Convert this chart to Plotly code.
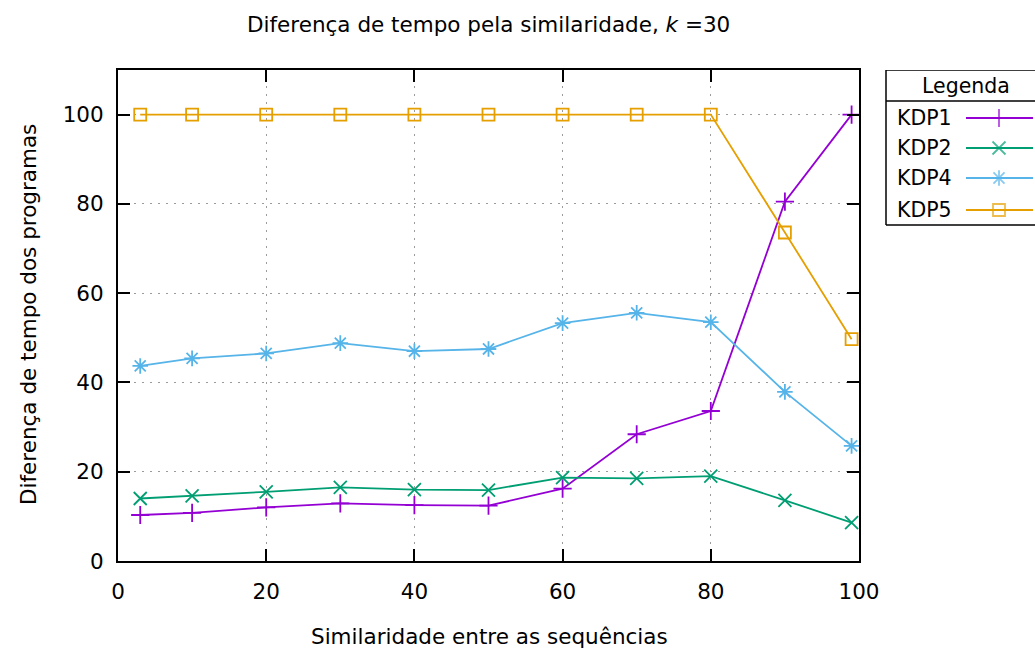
import plotly.graph_objects as go

# ---- data ----
similaridade = [3, 10, 20, 30, 40, 50, 60, 70, 80, 90, 99]
kdp1 = [10.3, 10.8, 12.0, 12.9, 12.5, 12.4, 16.2, 28.4, 33.6, 80.5, 100]
kdp2 = [14.0, 14.6, 15.5, 16.5, 16.0, 15.9, 18.7, 18.5, 19.0, 13.6, 8.6]
kdp4 = [43.7, 45.4, 46.5, 48.8, 47.0, 47.5, 53.3, 55.6, 53.5, 37.9, 25.8]
kdp5 = [100, 100, 100, 100, 100, 100, 100, 100, 100, 73.6, 49.7]
series_names = ["KDP1", "KDP2", "KDP4", "KDP5"]
x_ticks = [0, 20, 40, 60, 80, 100]
y_ticks = [0, 20, 40, 60, 80, 100]

colors = ["#9400D3", "#009E73", "#56B4E9", "#E69F00"]
symbols = ["cross-thin-open", "x-thin-open", "asterisk-open", "square-open"]
sizes = [13, 13, 13, 12]

FONT = "DejaVu Sans"
FS = 21.5
W, H = 1035, 650
L, R, T, B = 118, 0, 70, 89
plot_w_px = 741
pw = W - L - R
ph = H - T - B

fig = go.Figure()
for name, ys, c, s, sz in zip(series_names, [kdp1, kdp2, kdp4, kdp5], colors, symbols, sizes):
    fig.add_trace(go.Scatter(
        x=similaridade, y=ys, name=name, mode="lines+markers",
        line=dict(color=c, width=1.8),
        marker=dict(symbol=s, size=sz, color=c, line=dict(color=c, width=1.8)),
        showlegend=False, xaxis="x", yaxis="y",
    ))

# ---- custom gnuplot-style legend (drawn on an overlay pixel axis) ----
leg_left, leg_right = 886, 1035
leg_top, leg_sep, leg_bottom = 70, 101, 225
row_y = [118, 148, 178, 210]
for name, c, s, sz, yy in zip(series_names, colors, symbols, sizes, row_y):
    fig.add_trace(go.Scatter(
        x=[966, 999, 1033], y=[yy, yy, yy], mode="lines+markers",
        line=dict(color=c, width=1.8),
        marker=dict(symbol=s, size=[0, sz, 0], color=c, line=dict(color=c, width=1.8)),
        showlegend=False, xaxis="x2", yaxis="y2", hoverinfo="skip",
    ))

annotations = []
for name, yy in zip(series_names, row_y):
    annotations.append(dict(x=895, y=yy, xref="x2", yref="y2", text=name, showarrow=False,
                            xanchor="left", yanchor="middle", font=dict(family=FONT, size=FS - 1, color="#000")))
annotations.append(dict(x=966, y=86, xref="x2", yref="y2", text="Legenda", showarrow=False,
                        xanchor="center", yanchor="middle", font=dict(family=FONT, size=FS - 1, color="#000")))

shapes = []
for (x0, y0, x1, y1) in [(leg_left, leg_top, leg_right + 5, leg_top),
                         (leg_left, leg_sep, leg_right + 5, leg_sep),
                         (leg_left, leg_bottom, leg_right + 5, leg_bottom),
                         (leg_left, leg_top, leg_left, leg_bottom)]:
    shapes.append(dict(type="line", xref="x2", yref="y2", x0=x0, y0=y0, x1=x1, y1=y1,
                       line=dict(color="#000", width=1.5)))

# titles
annotations.append(dict(x=(488 - L) / pw, y=(H - B - 25) / ph, xref="paper", yref="paper",
                        text="Diferença de tempo pela similaridade, <i>k</i> =30", showarrow=False,
                        xanchor="center", yanchor="middle", font=dict(family=FONT, size=FS, color="#000")))
annotations.append(dict(x=(489 - L) / pw, y=(H - B - 636) / ph, xref="paper", yref="paper",
                        text="Similaridade entre as sequências", showarrow=False,
                        xanchor="center", yanchor="middle", font=dict(family=FONT, size=FS, color="#000")))
annotations.append(dict(x=(28 - L) / pw, y=(H - B - 315) / ph, xref="paper", yref="paper",
                        text="Diferença de tempo dos programas", showarrow=False, textangle=-90,
                        xanchor="center", yanchor="middle", font=dict(family=FONT, size=FS, color="#000")))

axis_common = dict(
    showline=True, linecolor="#000", linewidth=2, mirror="ticks",
    ticks="inside", ticklen=12, tickwidth=2, tickcolor="#000",
    showgrid=True, gridcolor="#9a9a9a", gridwidth=1, griddash="2px,6px",
    zeroline=False, tickfont=dict(family=FONT, size=FS, color="#000"),
)

fig.update_layout(
    width=W, height=H,
    margin=dict(l=L, r=R, t=T, b=B, autoexpand=False),
    paper_bgcolor="white", plot_bgcolor="white",
    showlegend=False,
    xaxis=dict(domain=[0, plot_w_px / pw], range=[0, 100], tickvals=x_ticks,
               ticklabelstandoff=10, **axis_common),
    yaxis=dict(domain=[0, 1], range=[0, 110], tickvals=y_ticks,
               ticklabelstandoff=8, **axis_common),
    xaxis2=dict(domain=[(leg_left - 1 - L) / pw, 1], range=[leg_left - 1, W], visible=False, fixedrange=True),
    yaxis2=dict(domain=[0, 1], range=[H - B, T], visible=False, fixedrange=True, anchor="x2"),
    annotations=annotations, shapes=shapes,
)

fig.write_html("out.html")
